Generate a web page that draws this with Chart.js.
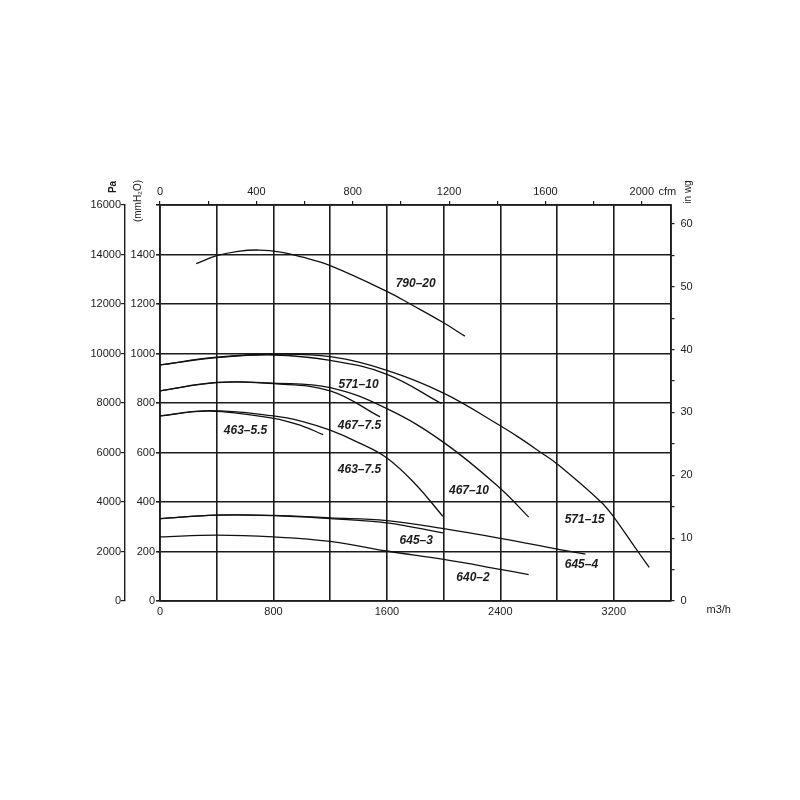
<!DOCTYPE html>
<html lang="en">
<head>
    <meta charset="UTF-8">
    <title>Fan performance curves</title>
    <script src="https://cdn.jsdelivr.net/npm/chart.js"></script>
    <style>
        body { margin: 0; background: #fff; }
    </style>
</head>
<body>
    <canvas id="fanChart" width="800" height="800"></canvas>

    <script>
        // curve names (model - motor kW)
        const curveNames = ['790–20', '571–15', '571–10', '467–10', '467–7.5', '463–7.5', '463–5.5', '645–4', '645–3', '640–2'];

        // air flow m3/h and static pressure mmH2O
        const flow79020 = [255, 400, 550, 700, 850, 1000, 1200, 1600, 1780, 2000, 2150];
        const press79020 = [1363, 1395, 1413, 1418, 1410, 1390, 1355, 1251, 1195, 1124, 1070];

        const flow57115 = [0, 400, 800, 1200, 1600, 2000, 2400, 2536, 2686, 2800, 3110, 3200, 3370, 3450];
        const press57115 = [954, 985, 997, 987, 932, 840, 708, 659, 600, 554, 400, 339, 200, 136];

        const flow57110 = [0, 400, 800, 1200, 1600, 1985];
        const press57110 = [954, 983, 994, 972, 916, 798];

        const flow46710 = [0, 400, 800, 1200, 1600, 2000, 2400, 2600];
        const press46710 = [849, 883, 880, 862, 777, 641, 455, 339];

        const flow4677 = [0, 400, 800, 1200, 1552];
        const press4677 = [849, 882, 878, 849, 744];

        const flow4637 = [0, 350, 800, 1000, 1200, 1400, 1600, 1800, 1995];
        const press4637 = [748, 769, 748, 726, 690, 640, 578, 473, 342];

        const flow4635 = [0, 350, 800, 1000, 1150];
        const press4635 = [748, 767, 738, 708, 672];

        const flow6454 = [0, 400, 800, 1200, 1600, 2000, 2400, 2800, 3000];
        const press6454 = [333, 347, 346, 336, 325, 292, 253, 210, 189];

        const flow6453 = [0, 400, 800, 1200, 1600, 1995];
        const press6453 = [333, 347, 345, 333, 316, 275];

        const flow6402 = [0, 400, 800, 1200, 1600, 2000, 2400, 2600];
        const press6402 = [259, 266, 259, 241, 202, 168, 128, 107];

        const flows = [flow79020, flow57115, flow57110, flow46710, flow4677, flow4637, flow4635, flow6454, flow6453, flow6402];
        const presses = [press79020, press57115, press57110, press46710, press4677, press4637, press4635, press6454, press6453, press6402];

        // where each curve name sits (m3/h, mmH2O)
        const labelFlow = [1803, 2995, 1400, 2179, 1407, 1407, 603, 2972, 1807, 2207];
        const labelPress = [1284, 330, 872, 447, 708, 530, 688, 148, 245, 94];

        // axis ranges
        const flowMax = 3600;          // m3/h
        const pressMax = 1600;         // mmH2O
        const paMax = 16000;           // Pa
        const cfmMax = flowMax * 0.5886;
        const wgMax = pressMax / 25.4;

        const ink = '#1c1c1c';
        const tickFont = { family: '"Liberation Sans", Arial, sans-serif', size: 11 };

        const datasets = curveNames.map((name, i) => ({
            label: name,
            data: flows[i].map((f, j) => ({ x: f, y: presses[i][j] })),
            borderColor: '#111',
            borderWidth: 1.3,
            pointRadius: 0,
            fill: false,
            tension: 0.4,
            xAxisID: 'x',
            yAxisID: 'y'
        }));

        // unit captions and curve names
        const textPlugin = {
            id: 'chartTexts',
            afterDraw(chart) {
                const ctx = chart.ctx;
                const a = chart.chartArea;
                const sx = chart.scales.x, sy = chart.scales.y;
                ctx.save();
                ctx.fillStyle = ink;
                ctx.textAlign = 'center';
                ctx.textBaseline = 'middle';

                ctx.font = 'italic bold 12px "Liberation Sans", Arial, sans-serif';
                curveNames.forEach((name, i) => {
                    ctx.fillText(name, sx.getPixelForValue(labelFlow[i]), sy.getPixelForValue(labelPress[i]));
                });

                ctx.font = '11px "Liberation Sans", Arial, sans-serif';
                ctx.textAlign = 'left';
                ctx.fillText('cfm', a.right - 12, a.top - 13);
                ctx.fillText('m3/h', a.right + 36, a.bottom + 9);

                const vertical = (txt, x, y, font) => {
                    ctx.save();
                    ctx.translate(x, y);
                    ctx.rotate(-Math.PI / 2);
                    ctx.font = font;
                    ctx.textAlign = 'center';
                    ctx.fillText(txt, 0, 0);
                    ctx.restore();
                };
                vertical('Pa', 113, a.top - 18, 'bold 10px "Liberation Sans", Arial, sans-serif');
                vertical('(mmH₂O)', 138, a.top - 4, '10px "Liberation Sans", Arial, sans-serif');
                vertical('in wg', a.right + 18, a.top - 13, '10px "Liberation Sans", Arial, sans-serif');
                ctx.restore();
            }
        };

        new Chart(document.getElementById('fanChart'), {
            type: 'line',
            data: { datasets },
            plugins: [textPlugin],
            options: {
                responsive: false,
                animation: false,
                layout: { padding: { left: 60, right: 69.5, top: 180, bottom: 169 } },
                plugins: { legend: { display: false }, tooltip: { enabled: false } },
                scales: {
                    x: {
                        type: 'linear',
                        position: 'bottom',
                        min: 0,
                        max: flowMax,
                        grid: { color: ink, lineWidth: 1.6, drawTicks: false },
                        border: { color: ink, width: 1.8 },
                        ticks: {
                            stepSize: 400, autoSkip: false, maxRotation: 0, padding: 4,
                            color: ink, font: tickFont,
                            callback: v => (v % 800 === 0 ? String(v) : '')
                        },
                        afterFit: s => { s.height = 30; }
                    },
                    xCfm: {
                        type: 'linear',
                        position: 'top',
                        min: 0,
                        max: cfmMax,
                        grid: { drawOnChartArea: false, color: ink, lineWidth: 1.2, tickLength: 4 },
                        border: { color: ink, width: 1.8 },
                        ticks: {
                            stepSize: 200, includeBounds: false, autoSkip: false, maxRotation: 0, padding: 2,
                            color: ink, font: tickFont,
                            callback: v => (v % 400 === 0 ? String(v) : '')
                        },
                        afterFit: s => { s.height = 25; }
                    },
                    y: {
                        type: 'linear',
                        position: 'left',
                        weight: 0,
                        min: 0,
                        max: pressMax,
                        grid: { color: ink, lineWidth: 1.6, tickLength: 4 },
                        border: { color: ink, width: 1.8 },
                        ticks: {
                            stepSize: 200, autoSkip: false, padding: 1,
                            color: ink, font: tickFont,
                            callback: v => (v < pressMax ? String(v) : '')
                        },
                        afterFit: s => { s.width = 35; }
                    },
                    yPa: {
                        type: 'linear',
                        position: 'left',
                        weight: 1,
                        min: 0,
                        max: paMax,
                        grid: { drawOnChartArea: false, color: ink, lineWidth: 1.2, tickLength: 4 },
                        border: { color: ink, width: 1.4 },
                        ticks: {
                            stepSize: 2000, autoSkip: false, padding: 0,
                            color: ink, font: tickFont,
                            callback: v => String(v)
                        },
                        afterFit: s => { s.width = 65; }
                    },
                    yWg: {
                        type: 'linear',
                        position: 'right',
                        min: 0,
                        max: wgMax,
                        grid: { drawOnChartArea: false, color: ink, lineWidth: 1.2, tickLength: 4 },
                        border: { color: ink, width: 1.8 },
                        ticks: {
                            stepSize: 5, includeBounds: false, autoSkip: false, padding: 6,
                            color: ink, font: tickFont,
                            callback: v => (v % 10 === 0 ? String(v) : '')
                        },
                        afterFit: s => { s.width = 60; }
                    }
                }
            }
        });
    </script>
</body>
</html>
